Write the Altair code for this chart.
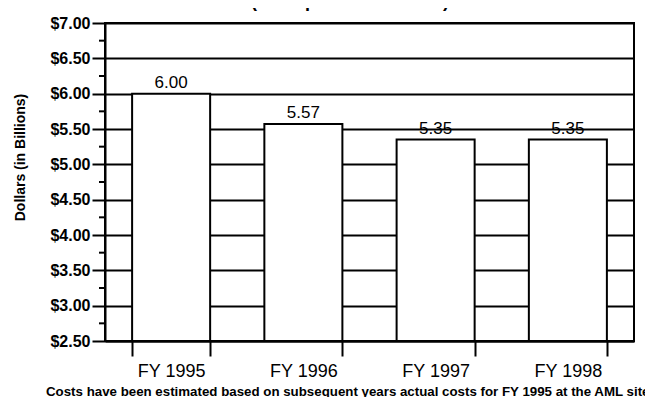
import altair as alt
import pandas as pd

years = ["FY 1995", "FY 1996", "FY 1997", "FY 1998"]
costs = [6.00, 5.57, 5.35, 5.35]
axis_min = 2.5
y_ticks = [2.5, 3.0, 3.5, 4.0, 4.5, 5.0, 5.5, 6.0, 6.5, 7.0]
minor_ticks = [2.75, 3.25, 3.75, 4.25, 4.75, 5.25, 5.75, 6.25, 6.75]
title_text = "(25 Departmental sites)"
y_title = "Dollars (in Billions)"
footnote = "Costs have been estimated based on subsequent years actual costs for FY 1995 at the AML sites"

FONT = "Liberation Sans"

df = pd.DataFrame({"year": years, "cost": costs, "base": [axis_min] * len(years)})
df_minor = pd.DataFrame({"v": minor_ticks})
df_foot = pd.DataFrame({"t": [footnote]})
df_title = pd.DataFrame({"t": [title_text]})

y_scale = alt.Scale(domain=[2.5, 7.0], nice=False, zero=False)
x_scale = alt.Scale(paddingInner=0.41, paddingOuter=0.205)

x_axis = alt.Axis(
    title=None, labelAngle=0, tickBand="extent", tickSize=15, tickWidth=2,
    domainWidth=2, labelFontSize=18, labelPadding=6, grid=False,
    labelFont=FONT,
)
y_axis = alt.Axis(
    values=y_ticks, format="$.2f", title=y_title, titleX=-85, titleY=134,
    titleAngle=270, titleBaseline="middle", titleFontSize=14, titleFont=FONT,
    titleFontWeight="bold", labelFontSize=16, labelFontWeight="bold",
    labelFont=FONT, labelPadding=2, tickSize=13, tickWidth=2, domainWidth=2,
    grid=True, gridColor="black", gridWidth=2, labelOverlap=False,
    labelBound=False, labelFlush=False,
)

bars = alt.Chart(df).mark_bar(fill="white", stroke="black", strokeWidth=2).encode(
    x=alt.X("year:N", sort=years, scale=x_scale, axis=x_axis),
    y=alt.Y("cost:Q", scale=y_scale, axis=y_axis),
    y2="base:Q",
)

labels = alt.Chart(df).mark_text(
    fontSize=17, font=FONT, baseline="alphabetic", dy=-6, color="black"
).encode(
    x=alt.X("year:N", sort=years, scale=x_scale, axis=x_axis),
    y=alt.Y("cost:Q", scale=y_scale, axis=y_axis),
    text=alt.Text("cost:Q", format=".2f"),
)

minor = alt.Chart(df_minor).mark_rule(color="black", strokeWidth=2).encode(
    y=alt.Y("v:Q", scale=y_scale, axis=y_axis),
    x=alt.value(-6),
    x2=alt.value(0),
)

foot = alt.Chart(df_foot).mark_text(
    fontSize=13.3, fontWeight="bold", font=FONT, align="left", baseline="alphabetic",
    color="black",
).encode(text="t:N", x=alt.value(-59), y=alt.value(373))

top_title = alt.Chart(df_title).mark_text(
    fontSize=18, fontWeight="bold", font=FONT, align="center", baseline="alphabetic",
    color="black",
).encode(text="t:N", x=alt.value(245), y=alt.value(-16))

chart = alt.layer(bars, labels, minor, foot, top_title).properties(
    width=529,
    height=318,
    padding={"left": 97, "top": 15, "right": 11, "bottom": 56},
    autosize=alt.AutoSizeParams(type="none"),
).configure_view(stroke="black", strokeWidth=2).configure_axis(
    domainColor="black", tickColor="black", labelColor="black", titleColor="black"
)

chart.save("out.html", embed_options={"renderer": "svg", "actions": False})
